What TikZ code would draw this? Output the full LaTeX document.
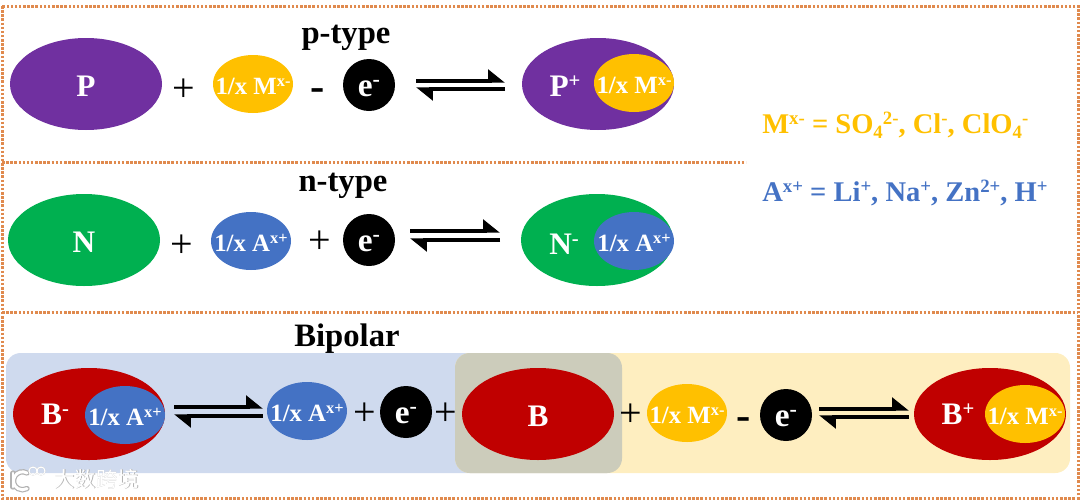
\documentclass[tikz,border=0pt]{standalone}
\usepackage{fontspec}
\setmainfont{Liberation Serif}
\newfontfamily\cjkwm{Noto Sans CJK SC}
\usetikzlibrary{shapes.geometric,arrows.meta}
\definecolor{frameor}{HTML}{E08A4E}
\definecolor{purp}{HTML}{7030A0}
\definecolor{gold}{HTML}{FFC000}
\definecolor{grn}{HTML}{00B050}
\definecolor{blu}{HTML}{4472C4}
\definecolor{redd}{HTML}{C00000}
\definecolor{lblu}{HTML}{CFDAEE}
\definecolor{lyel}{HTML}{FEEEC0}
\definecolor{lmix}{HTML}{CCCCBB}
\newcommand{\sz}[1]{\fontsize{#1}{#1}\selectfont\bfseries}
\makeatletter
\newcommand{\minisz}{\fontsize{\strip@pt\dimexpr0.66\dimexpr\f@size pt\relax\relax}{1}\selectfont}
\makeatother
\newcommand{\up}[1]{\raisebox{.3em}{\minisz #1}}
\newcommand{\dn}[1]{\raisebox{-.2em}{\minisz #1}}
\newcommand{\Mion}{\makebox[0pt]{1/x M\up{x-}}}
\newcommand{\Aion}{\makebox[0pt]{1/x A\up{x+}}}
\tikzset{
  x=0.75pt,y=-0.75pt,
  big/.style={ellipse,inner sep=0pt,minimum width=114pt,minimum height=69pt,text=white,font=\sz{23.5},text height=19pt,text depth=0pt},
  ion/.style={ellipse,inner sep=0pt,minimum width=60pt,minimum height=43.5pt,text=white,font=\sz{18.6},text height=15pt,text depth=0pt},
  elec/.style={circle,fill=black,inner sep=0pt,minimum size=39pt,text=white,font=\sz{25},text height=16.5pt,text depth=0pt},
  lab/.style={text=white,font=\sz{23.5},inner sep=0pt,text height=19pt,text depth=0pt},
  op/.style={font=\fontsize{30}{30}\selectfont,inner sep=0pt},
  minus/.style={font=\sz{32},inner sep=0pt},
  heading/.style={font=\sz{24.5},inner sep=0pt},
  legend/.style={font=\sz{21.4},inner sep=0pt,anchor=base west},
  framel/.style={frameor,line width=2.25pt,dash pattern=on 1.9pt off 1.2pt},
  harp/.style={line width=2.6pt,-{Triangle[harpoon,length=11pt,width=17pt]}},
  panel/.style={rounded corners=11pt},
  wmshadow/.style={text=black!30,font=\cjkwm\fontsize{16}{16}\selectfont,inner sep=0pt},
  wmtext/.style={text=white,font=\cjkwm\fontsize{16}{16}\selectfont,inner sep=0pt},
}
\newcommand{\equil}[4]{% x1 x2 ytop ybottom
  \coordinate (ea) at (#1,#3); \coordinate (eb) at (#2,#3);
  \coordinate (ec) at (#2,#4); \coordinate (ed) at (#1,#4);
  \draw[harp] (ea) -- (eb);
  \draw[harp] (ec) -- (ed);
}
\begin{document}
\begin{tikzpicture}
\useasboundingbox (0,0) rectangle (1080,500);
% panels
\fill[lblu,panel] (6,353) rectangle (622,473);
\fill[lyel,panel] (455,353) rectangle (1070,473);
\fill[lmix,panel] (455,353) rectangle (622,473);
% frame
\draw[framel] (2,6) rectangle (1078,498);
\coordinate (s1a) at (2,162); \coordinate (s1b) at (746,162);
\coordinate (s2a) at (2,312); \coordinate (s2b) at (1078,312);
\draw[framel] (s1a) -- (s1b);
\draw[framel] (s2a) -- (s2b);
% p-type
\node[heading] (ptitle) at (346,38) {p-type};
\node[big,fill=purp] (P) at (86,84) {P};
\node[op] (pplus) at (184,90) {+};
\node[ion,fill=gold] (pM) at (253,84) {\Mion};
\node[minus] (pminus) at (318,95) {-};
\node[elec] (pe) at (369,85) {e\up{-}};
\equil{416}{505}{81}{89}
\node[big,fill=purp] (Pp) at (598,84) {};
\node[lab] (Pplab) at (565,84) {P\up{+}};
\node[ion,fill=gold] (PpM) at (634,83) {\Mion};
% n-type
\node[heading] (ntitle) at (343,186) {n-type};
\node[big,fill=grn] (N) at (84,240) {N};
\node[op] (nplus) at (182,246) {+};
\node[ion,fill=blu] (nA) at (251,241) {\Aion};
\node[op] (nplus2) at (320,242) {+};
\node[elec] (ne) at (369,240) {e\up{-}};
\equil{410}{500}{231}{240}
\node[big,fill=grn] (Nm) at (597,240) {};
\node[lab] (Nmlab) at (564,242) {N\up{-}};
\node[ion,fill=blu] (NmA) at (634,241) {\Aion};
% legend
\node[legend,text=gold] (lM) at (762,133) {M\up{x-} = SO\dn{4}\up{2-}, Cl\up{-}, ClO\dn{4}\up{-}};
\node[legend,text=blu] (lA) at (762,201) {A\up{x+} = Li\up{+}, Na\up{+}, Zn\up{2+}, H\up{+}};
% bipolar
\node[heading] (btitle) at (347,339) {Bipolar};
\node[big,fill=redd] (Bm) at (89,414) {};
\node[lab] (Bmlab) at (55,412) {B\up{-}};
\node[ion,fill=blu] (BmA) at (125,415) {\Aion};
\equil{174}{263}{407}{416}
\node[ion,fill=blu] (bA) at (307,411) {\Aion};
\node[op] (bp1) at (365,414) {+};
\node[elec] (be1) at (406,412) {e\up{-}};
\node[op] (bp2) at (446,414) {+};
\node[big,fill=redd] (B) at (538,414) {B};
\node[op] (bp3) at (631,415) {+};
\node[ion,fill=gold] (bM) at (687,413) {\Mion};
\node[minus] (bminus) at (744,424) {-};
\node[elec] (be2) at (786,415) {e\up{-}};
\equil{819}{909}{409}{417}
\node[big,fill=redd] (Bp) at (990,414) {};
\node[lab] (Bplab) at (958,412) {B\up{+}};
\node[ion,fill=gold] (BpM) at (1025,414) {\Mion};
% watermark
\node[wmshadow] (wm0) at (96.7,479.7) {大数跨境};
\node[wmtext] (wm) at (96,479) {大数跨境};
\foreach \c/\w in {black!30/4pt,white/2.2pt}{
  \draw[\c,line width=\w,line cap=round] (13,473) -- (13,487);
  \draw[\c,line width=\w,line cap=round] (27,473) arc[start angle=-60,end angle=-300,radius=9];
  \draw[\c,line width=.9pt] (33,471) circle[radius=4];
  \draw[\c,line width=.9pt] (41,471) circle[radius=4];
}
\end{tikzpicture}
\end{document}
